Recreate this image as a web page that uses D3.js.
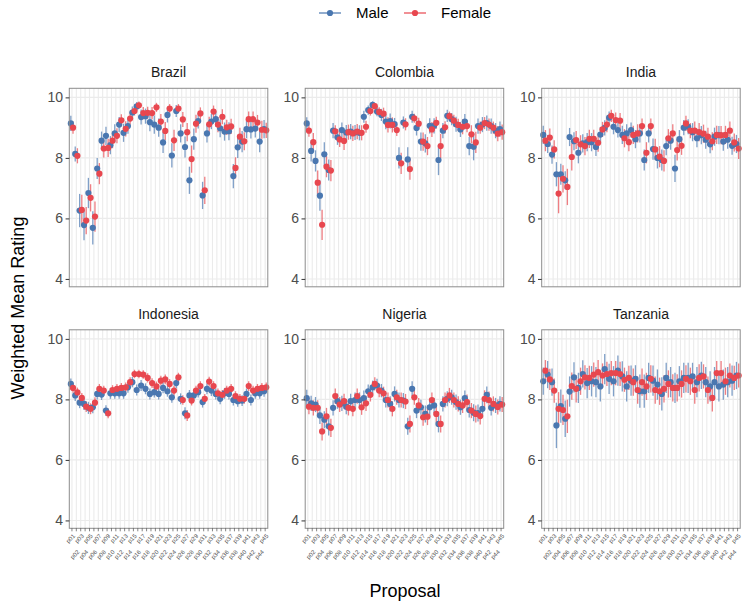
<!DOCTYPE html>
<html><head><meta charset="utf-8">
<script src="https://cdn.jsdelivr.net/npm/d3@7"></script>
<style>
body{margin:0;background:#fff}
svg text{font-family:"Liberation Sans",Arial,Helvetica,sans-serif}
</style>
</head><body>
<svg id="chart" width="748" height="609"></svg>
<script>
const proposals = ["p01","p02","p03","p04","p05","p06","p07","p08","p09","p10","p11","p12","p13","p14","p15","p16","p17","p18","p19","p20","p21","p22","p23","p24","p25","p26","p27","p28","p29","p30","p31","p32","p33","p34","p35","p36","p37","p38","p39","p40","p41","p42","p43","p44","p45"];
const countries = ["Brazil","Colombia","India","Indonesia","Nigeria","Tanzania"];
const sexes = ["Male","Female"];
const yTicks = [4,6,8,10];

const maleBrazil = [9.14,8.13,6.26,5.78,6.84,5.69,7.65,8.57,8.73,8.42,8.81,9.10,8.83,9.05,9.50,9.70,9.35,9.38,9.18,9.10,9.00,8.51,9.42,8.08,9.55,8.81,8.36,7.26,8.62,9.22,6.76,8.81,9.20,9.28,8.98,8.87,8.88,7.40,8.35,8.54,8.95,8.94,8.97,8.54,8.95];
const femaleBrazil = [9.00,8.07,6.28,5.93,6.68,6.06,7.48,8.31,8.33,8.57,8.73,9.24,8.96,9.30,9.55,9.74,9.48,9.49,9.48,9.67,9.20,8.89,9.63,8.58,9.63,9.27,8.85,7.96,9.13,9.47,6.93,9.11,9.53,9.10,9.36,9.01,9.04,7.67,8.70,8.55,9.28,9.28,9.17,8.93,8.91];
const maleErrBrazil = [0.25,0.25,0.55,0.5,0.5,0.55,0.35,0.3,0.3,0.3,0.3,0.25,0.3,0.25,0.2,0.15,0.25,0.25,0.3,0.3,0.3,0.35,0.25,0.4,0.2,0.3,0.35,0.45,0.35,0.25,0.45,0.3,0.25,0.25,0.3,0.3,0.3,0.4,0.35,0.35,0.3,0.3,0.3,0.35,0.3];
const femaleErrBrazil = [0.2,0.25,0.5,0.45,0.45,0.5,0.35,0.3,0.3,0.25,0.25,0.2,0.25,0.2,0.15,0.12,0.2,0.2,0.2,0.15,0.25,0.3,0.15,0.35,0.15,0.25,0.3,0.45,0.3,0.2,0.45,0.25,0.2,0.25,0.25,0.25,0.25,0.35,0.3,0.3,0.25,0.25,0.25,0.3,0.25];

const maleColombia = [9.14,8.23,7.90,6.75,8.12,7.60,8.90,8.68,8.92,8.84,8.87,8.84,8.83,9.36,9.58,9.75,9.53,9.42,9.20,9.22,9.12,8.00,9.17,7.95,9.36,8.99,8.54,8.48,9.06,9.06,7.93,8.90,9.39,9.28,9.11,8.94,9.20,8.39,8.37,9.05,9.10,9.15,9.05,8.90,8.95];
const femaleColombia = [8.90,8.52,7.18,5.79,7.71,7.58,8.88,8.61,8.56,8.85,8.81,8.87,8.83,9.03,9.55,9.71,9.52,9.46,9.09,9.09,8.92,7.82,9.11,7.63,9.31,9.13,8.54,8.39,8.94,9.16,8.39,9.01,9.38,9.23,9.09,9.03,9.05,8.78,8.51,9.00,9.15,9.10,9.00,8.80,8.85];
const maleErrColombia = [0.2,0.35,0.35,0.5,0.4,0.35,0.25,0.25,0.25,0.25,0.25,0.25,0.25,0.2,0.15,0.12,0.15,0.2,0.25,0.25,0.2,0.35,0.2,0.4,0.2,0.25,0.3,0.3,0.25,0.25,0.5,0.25,0.2,0.2,0.25,0.25,0.25,0.3,0.45,0.25,0.25,0.25,0.25,0.25,0.25];
const femaleErrColombia = [0.2,0.3,0.4,0.5,0.35,0.35,0.2,0.25,0.3,0.25,0.25,0.25,0.25,0.2,0.15,0.1,0.15,0.2,0.25,0.25,0.2,0.35,0.2,0.35,0.15,0.2,0.3,0.3,0.25,0.2,0.4,0.2,0.15,0.2,0.2,0.25,0.2,0.3,0.35,0.2,0.2,0.2,0.2,0.25,0.25];

const maleIndia = [8.76,8.46,8.11,7.46,7.46,7.26,8.69,8.55,8.17,8.48,8.52,8.52,8.36,8.77,8.99,9.33,9.03,8.92,8.76,8.81,8.92,8.62,8.81,7.93,8.81,8.29,8.00,7.93,8.39,8.57,7.65,8.62,9.00,9.03,8.85,8.65,8.75,8.60,8.45,8.70,8.75,8.54,8.60,8.40,8.46];
const femaleIndia = [8.57,8.67,8.28,6.82,7.31,7.04,8.03,8.59,8.45,8.39,8.63,8.63,8.50,8.94,9.10,9.39,9.25,9.23,8.65,8.52,8.76,8.81,9.05,8.17,9.05,8.28,8.04,7.90,8.65,8.81,8.26,8.40,9.14,8.90,8.90,8.85,8.80,8.70,8.55,8.76,8.75,8.76,8.90,8.51,8.31];
const maleErrIndia = [0.3,0.3,0.3,0.4,0.35,0.3,0.3,0.3,0.35,0.3,0.3,0.3,0.3,0.25,0.25,0.2,0.25,0.25,0.3,0.3,0.25,0.3,0.3,0.35,0.3,0.35,0.35,0.35,0.3,0.3,0.45,0.3,0.25,0.25,0.3,0.3,0.3,0.3,0.3,0.3,0.3,0.3,0.3,0.3,0.3];
const femaleErrIndia = [0.35,0.3,0.3,0.65,0.45,0.6,0.45,0.3,0.3,0.3,0.3,0.3,0.3,0.25,0.25,0.2,0.25,0.25,0.3,0.3,0.3,0.3,0.25,0.35,0.25,0.35,0.35,0.35,0.3,0.3,0.35,0.3,0.25,0.25,0.3,0.3,0.3,0.3,0.3,0.3,0.3,0.3,0.3,0.3,0.35];

const maleIndonesia = [8.51,8.13,7.89,7.85,7.72,7.74,8.18,8.16,7.63,8.20,8.20,8.20,8.20,8.40,8.57,8.31,8.46,8.35,8.18,8.24,8.18,8.38,8.27,8.07,8.54,8.02,7.54,8.13,8.13,8.24,7.91,8.35,8.29,8.18,8.02,8.20,8.18,7.98,7.94,7.96,8.18,7.98,8.20,8.20,8.27];
const femaleIndonesia = [8.38,8.23,8.05,7.76,7.69,7.89,8.35,8.29,7.54,8.31,8.35,8.38,8.40,8.57,8.84,8.84,8.82,8.71,8.54,8.43,8.62,8.66,8.51,8.29,8.73,7.98,7.47,7.96,8.29,8.44,8.02,8.59,8.44,8.20,8.15,8.29,8.35,8.11,8.02,8.02,8.44,8.29,8.35,8.38,8.40];
const maleErrIndonesia = [0.18,0.18,0.18,0.2,0.2,0.2,0.18,0.18,0.18,0.18,0.18,0.18,0.18,0.18,0.17,0.18,0.18,0.18,0.18,0.18,0.18,0.18,0.18,0.18,0.17,0.18,0.2,0.18,0.18,0.18,0.18,0.18,0.18,0.18,0.18,0.18,0.18,0.18,0.18,0.18,0.18,0.18,0.18,0.18,0.18];
const femaleErrIndonesia = [0.16,0.16,0.16,0.18,0.18,0.18,0.16,0.16,0.16,0.16,0.16,0.16,0.16,0.16,0.14,0.14,0.14,0.15,0.16,0.16,0.16,0.16,0.16,0.16,0.15,0.16,0.18,0.16,0.16,0.16,0.16,0.16,0.16,0.16,0.16,0.16,0.16,0.16,0.16,0.16,0.16,0.16,0.16,0.16,0.16];

const maleNigeria = [8.04,7.87,7.83,7.47,7.33,7.11,7.72,7.94,7.87,7.76,7.94,7.98,7.98,8.04,8.27,8.40,8.46,8.29,7.98,7.85,8.18,7.98,7.96,7.11,8.35,7.63,7.74,7.52,7.74,7.80,7.19,7.85,8.02,8.07,7.91,7.74,8.04,7.65,7.56,7.55,7.69,8.15,7.72,7.80,7.85];
const femaleNigeria = [7.76,7.72,7.72,6.94,7.44,7.06,8.11,7.83,7.94,7.72,7.69,8.11,7.74,7.87,8.15,8.51,8.29,8.20,7.98,7.69,8.07,7.98,7.93,7.19,8.07,7.80,7.41,7.43,7.98,7.52,7.19,7.98,8.13,7.98,7.85,7.80,7.91,7.63,7.52,7.45,8.02,7.98,7.85,7.75,7.83];
const maleErrNigeria = [0.28,0.25,0.25,0.28,0.28,0.3,0.25,0.25,0.25,0.25,0.25,0.25,0.25,0.25,0.22,0.22,0.22,0.22,0.25,0.25,0.25,0.25,0.25,0.28,0.25,0.25,0.25,0.28,0.25,0.25,0.28,0.25,0.25,0.25,0.25,0.25,0.25,0.25,0.28,0.28,0.28,0.28,0.25,0.25,0.25];
const femaleErrNigeria = [0.25,0.25,0.25,0.3,0.28,0.3,0.25,0.25,0.25,0.25,0.25,0.25,0.25,0.25,0.22,0.22,0.22,0.22,0.25,0.25,0.25,0.25,0.25,0.28,0.25,0.25,0.28,0.28,0.25,0.28,0.28,0.25,0.25,0.25,0.25,0.25,0.25,0.25,0.28,0.28,0.28,0.28,0.25,0.25,0.25];

const maleTanzania = [8.60,8.82,8.57,7.14,7.78,7.36,8.26,8.73,8.38,8.84,8.54,8.60,8.57,8.43,9.00,8.68,8.60,8.95,8.76,8.43,8.62,8.68,8.27,8.27,8.71,8.62,8.49,8.18,8.71,8.57,8.38,8.60,8.71,8.71,8.76,8.57,8.79,8.57,8.43,8.57,8.43,8.49,8.57,8.62,8.79];
const femaleTanzania = [8.95,8.66,8.29,7.69,7.65,7.44,8.44,8.35,8.60,8.73,8.71,8.82,8.90,8.79,8.84,8.87,8.87,8.84,8.65,8.71,8.57,8.31,8.57,8.43,8.68,8.31,8.27,8.35,8.51,8.38,8.38,8.51,8.68,8.60,8.31,8.71,8.76,8.31,8.05,8.87,8.87,8.60,8.79,8.71,8.79];
const maleErrTanzania = [0.45,0.45,0.45,0.75,0.55,0.6,0.5,0.5,0.5,0.45,0.5,0.5,0.5,0.5,0.5,0.5,0.5,0.5,0.5,0.5,0.5,0.45,0.55,0.55,0.5,0.5,0.5,0.55,0.5,0.5,0.5,0.5,0.5,0.5,0.45,0.5,0.45,0.5,0.5,0.5,0.5,0.5,0.5,0.5,0.45];
const femaleErrTanzania = [0.35,0.35,0.4,0.55,0.5,0.55,0.45,0.45,0.45,0.4,0.4,0.4,0.4,0.4,0.4,0.4,0.4,0.4,0.4,0.4,0.45,0.45,0.45,0.45,0.45,0.45,0.45,0.45,0.45,0.45,0.45,0.45,0.45,0.45,0.45,0.45,0.4,0.45,0.45,0.4,0.4,0.45,0.4,0.4,0.4];

const series = {
  Brazil:[maleBrazil,femaleBrazil,maleErrBrazil,femaleErrBrazil],
  Colombia:[maleColombia,femaleColombia,maleErrColombia,femaleErrColombia],
  India:[maleIndia,femaleIndia,maleErrIndia,femaleErrIndia],
  Indonesia:[maleIndonesia,femaleIndonesia,maleErrIndonesia,femaleErrIndonesia],
  Nigeria:[maleNigeria,femaleNigeria,maleErrNigeria,femaleErrNigeria],
  Tanzania:[maleTanzania,femaleTanzania,maleErrTanzania,femaleErrTanzania]
};

const colors = {Male:"#4a77b0", Female:"#e8474f"};
const svg = d3.select("#chart");

const panelLefts = [69.3, 305.2, 541.7];
const panelW = 198.5;
const panelTops = [88.3, 329.8];
const panelH = 198.5;
const yDomain = [3.74, 10.3];

const color = d3.scaleOrdinal().domain(sexes).range([colors.Male, colors.Female]);

countries.forEach((country, ci) => {
  const col = ci % 3, row = Math.floor(ci / 3);
  const x0 = panelLefts[col], y0 = panelTops[row];
  const x = d3.scalePoint().domain(proposals).range([x0, x0 + panelW]).padding(0.6);
  const y = d3.scaleLinear().domain(yDomain).range([y0 + panelH, y0]);
  const dodge = d3.scaleOrdinal().domain(sexes).range([-0.25 * x.step(), 0.25 * x.step()]);
  const g = svg.append("g");

  g.append("rect").attr("x", x0).attr("y", y0).attr("width", panelW).attr("height", panelH).attr("fill", "#fff");
  g.selectAll(".vg").data(proposals).join("line")
    .attr("x1", d => x(d)).attr("x2", d => x(d)).attr("y1", y0).attr("y2", y0 + panelH)
    .attr("stroke", "#ebebeb").attr("stroke-width", 1.1);
  g.selectAll(".hg").data(yTicks).join("line")
    .attr("x1", x0).attr("x2", x0 + panelW).attr("y1", d => y(d)).attr("y2", d => y(d))
    .attr("stroke", "#ebebeb").attr("stroke-width", 1.1);

  const [m, f, me, fe] = series[country];
  const data = [];
  sexes.forEach(s => proposals.forEach((p, i) => {
    const v = s === "Male" ? m[i] : f[i];
    const e = s === "Male" ? me[i] : fe[i];
    data.push({p, s, v, lo: v - e, hi: v + e});
  }));
  g.selectAll(".eb").data(data).join("line")
    .attr("x1", d => x(d.p) + dodge(d.s)).attr("x2", d => x(d.p) + dodge(d.s))
    .attr("y1", d => y(d.lo)).attr("y2", d => y(d.hi))
    .attr("stroke", d => color(d.s)).attr("stroke-width", 1.3).attr("stroke-opacity", 0.7);
  g.selectAll(".pt").data(data).join("circle")
    .attr("cx", d => x(d.p) + dodge(d.s)).attr("cy", d => y(d.v)).attr("r", 3.1)
    .attr("fill", d => color(d.s));

  g.append("rect").attr("x", x0).attr("y", y0).attr("width", panelW).attr("height", panelH)
    .attr("fill", "none").attr("stroke", "#8c8c8c").attr("stroke-width", 1);

  const ya = g.append("g").attr("transform", `translate(${x0},0)`)
    .call(d3.axisLeft(y).tickValues(yTicks).tickFormat(d3.format("d")).tickSize(3.7).tickPadding(2.5));
  ya.select(".domain").remove();
  ya.selectAll("line").attr("stroke", "#333");
  ya.selectAll("text").attr("font-size", 14).attr("fill", "#4d4d4d")
    .style("font-family", '"Liberation Sans",Arial,sans-serif');

  svg.append("text").attr("x", x0 + panelW / 2).attr("y", y0 - 11)
    .attr("text-anchor", "middle").attr("font-size", 14).attr("fill", "#1a1a1a").text(country);

  if (row === 1) {
    const xa = g.append("g").attr("transform", `translate(0,${y0 + panelH})`);
    xa.selectAll("line").data(proposals).join("line")
      .attr("x1", d => x(d)).attr("x2", d => x(d)).attr("y1", 0).attr("y2", 3)
      .attr("stroke", "#333").attr("stroke-width", 0.6);
    xa.selectAll("text").data(proposals).join("text")
      .attr("transform", (d, i) => `translate(${x(d) + 1.5},${(i % 2 === 0 ? 6 : 22)}) rotate(-45)`)
      .attr("text-anchor", "end").attr("dy", "0.5em")
      .attr("font-size", 6).attr("fill", "#4d4d4d").text(d => d);
  }
});

svg.append("text").attr("x", 405).attr("y", 597).attr("text-anchor", "middle")
  .attr("font-size", 18).attr("fill", "#000").text("Proposal");
svg.append("text").attr("transform", "translate(24,308) rotate(-90)").attr("text-anchor", "middle")
  .attr("font-size", 18).attr("fill", "#000").text("Weighted Mean Rating");

const legend = svg.append("g");
const legendItems = [{s:"Male", x:330}, {s:"Female", x:415}];
legendItems.forEach(it => {
  legend.append("line").attr("x1", it.x - 11).attr("x2", it.x + 11).attr("y1", 13).attr("y2", 13)
    .attr("stroke", color(it.s)).attr("stroke-width", 1.2);
  legend.append("circle").attr("cx", it.x).attr("cy", 13).attr("r", 3.1).attr("fill", color(it.s));
  legend.append("text").attr("x", it.x + 26).attr("y", 13).attr("dy", "0.36em")
    .attr("font-size", 15).attr("fill", "#000").text(it.s);
});
</script>
</body></html>
